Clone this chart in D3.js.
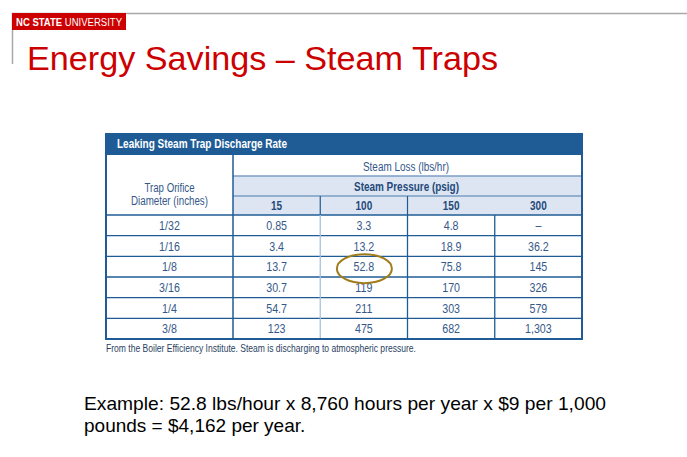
<!DOCTYPE html>
<html>
<head>
<meta charset="utf-8">
<script src="https://cdn.jsdelivr.net/npm/d3@7"></script>
<style>
html,body{margin:0;padding:0;background:#fff;}
svg{display:block;}
</style>
</head>
<body>
<svg id="chart" width="687" height="457"></svg>
<script>
// ---- data ----
const diameters = ["1/32", "1/16", "1/8", "3/16", "1/4", "3/8"];
const pressures = ["15", "100", "150", "300"];
const loss15  = [0.85, 3.4, 13.7, 30.7, 54.7, 123];
const loss100 = [3.3, 13.2, 52.8, 119, 211, 475];
const loss150 = [4.8, 18.9, 75.8, 170, 303, 682];
const loss300 = [null, 36.2, 145, 326, 579, 1303];
const highlight = {row: "1/8", col: "100"};

const seriesByPressure = {"15": loss15, "100": loss100, "150": loss150, "300": loss300};

const svg = d3.select("#chart");
const narrow = "'Liberation Sans Narrow','Arial Narrow','Liberation Sans',Arial,sans-serif";
const sans = "'Liberation Sans',Arial,Helvetica,sans-serif";
const dark = "#1f5c96", mid = "#7d9ec4", light = "#a9c1dc", fill = "#dce5f1", txt = "#34588a";

// squeeze text horizontally to mimic a condensed face
function condense(sel, factor) {
  sel.each(function () {
    const w = this.getComputedTextLength();
    d3.select(this).attr("textLength", w * factor).attr("lengthAdjust", "spacingAndGlyphs");
  });
}

// ---- slide frame ----
svg.append("rect").attr("width", 687).attr("height", 457).attr("fill", "#fff");
svg.append("line").attr("x1", 12).attr("x2", 687).attr("y1", 13.5).attr("y2", 13.5)
  .attr("stroke", "#a8a8a8").attr("stroke-width", 1.5);
svg.append("line").attr("x1", 12.5).attr("x2", 12.5).attr("y1", 13).attr("y2", 64)
  .attr("stroke", "#a8a8a8").attr("stroke-width", 1.5);
svg.append("rect").attr("x", 12).attr("y", 13).attr("width", 114).attr("height", 17).attr("fill", "#cc0000");
const logo = svg.append("text").attr("x", 16).attr("y", 26).attr("fill", "#fff")
  .attr("font-family", sans).attr("font-size", 10.5).attr("textLength", 106).attr("lengthAdjust", "spacingAndGlyphs");
logo.append("tspan").attr("font-weight", "bold").text("NC STATE ");
logo.append("tspan").text("UNIVERSITY");

svg.append("text").attr("x", 27).attr("y", 70).attr("fill", "#cc0000")
  .attr("font-family", sans).attr("font-size", 34).attr("textLength", 471).attr("lengthAdjust", "spacingAndGlyphs")
  .text("Energy Savings \u2013 Steam Traps");

// ---- table geometry via scales ----
const tableLeft = 106, tableRight = 582, firstColRight = 233;
const x = d3.scaleBand().domain(pressures).range([firstColRight, tableRight]);
const y = d3.scaleBand().domain(diameters).range([215, 339]);
const hdr = {top: 133, barBottom: 155, lossBottom: 176, pressBottom: 196, labelBottom: 215};

const g = svg.append("g");
// header bar
g.append("rect").attr("x", tableLeft).attr("y", hdr.top).attr("width", tableRight - tableLeft)
  .attr("height", hdr.barBottom - hdr.top).attr("fill", dark);
g.append("text").attr("x", 117).attr("y", 148).attr("fill", "#fff").attr("font-family", narrow)
  .attr("font-weight", "bold").attr("font-size", 13).attr("textLength", 170)
  .attr("lengthAdjust", "spacingAndGlyphs").text("Leaking Steam Trap Discharge Rate");
// light rows
g.append("rect").attr("x", firstColRight).attr("y", hdr.lossBottom).attr("width", tableRight - firstColRight)
  .attr("height", hdr.labelBottom - hdr.lossBottom).attr("fill", fill);

// header texts
g.append("text").attr("x", (tableLeft + firstColRight) / 2).attr("y", 191.5).attr("text-anchor", "middle")
  .attr("fill", txt).attr("font-family", narrow).attr("font-size", 12.5).attr("textLength", 50)
  .attr("lengthAdjust", "spacingAndGlyphs").text("Trap Orifice");
g.append("text").attr("x", (tableLeft + firstColRight) / 2).attr("y", 205).attr("text-anchor", "middle")
  .attr("fill", txt).attr("font-family", narrow).attr("font-size", 12.5).attr("textLength", 77)
  .attr("lengthAdjust", "spacingAndGlyphs").text("Diameter (inches)");
g.append("text").attr("x", 406).attr("y", 170.5).attr("text-anchor", "middle")
  .attr("fill", txt).attr("font-family", narrow).attr("font-size", 12.5).attr("textLength", 86)
  .attr("lengthAdjust", "spacingAndGlyphs").text("Steam Loss (lbs/hr)");
g.append("text").attr("x", 406.5).attr("y", 190.5).attr("text-anchor", "middle")
  .attr("fill", "#24497a").attr("font-family", narrow).attr("font-weight", "bold").attr("font-size", 12.5)
  .attr("textLength", 105).attr("lengthAdjust", "spacingAndGlyphs").text("Steam Pressure (psig)");
g.selectAll("text.plabel").data(pressures).join("text").attr("class", "plabel")
  .attr("x", d => x(d) + x.bandwidth() / 2).attr("y", 210).attr("text-anchor", "middle")
  .attr("fill", "#24497a").attr("font-family", narrow).attr("font-weight", "bold").attr("font-size", 12.5)
  .text(d => d).call(condense, 0.8);

// header lines
[hdr.lossBottom, hdr.pressBottom].forEach(yy => {
  g.append("line").attr("x1", firstColRight).attr("x2", tableRight).attr("y1", yy).attr("y2", yy)
    .attr("stroke", mid).attr("stroke-width", 1.5);
});
// vertical lines in label row
["100", "150"].forEach(p => {
  g.append("line").attr("x1", x(p)).attr("x2", x(p)).attr("y1", hdr.pressBottom).attr("y2", hdr.labelBottom)
    .attr("stroke", dark).attr("stroke-width", 1.2);
});

// body horizontal lines
const rowLines = [hdr.labelBottom].concat(diameters.slice(1).map(d => y(d)));
g.selectAll("line.hrow").data(rowLines).join("line").attr("class", "hrow")
  .attr("x1", tableLeft).attr("x2", tableRight).attr("y1", d => d).attr("y2", d => d)
  .attr("stroke", dark).attr("stroke-width", 1.3);
// body vertical lines
g.selectAll("line.vcol").data(pressures.slice(1)).join("line").attr("class", "vcol")
  .attr("x1", d => x(d)).attr("x2", d => x(d)).attr("y1", hdr.labelBottom).attr("y2", 339)
  .attr("stroke", d => d === "100" ? light : dark).attr("stroke-width", 1.3);
// first column separator
g.append("line").attr("x1", firstColRight).attr("x2", firstColRight).attr("y1", hdr.barBottom).attr("y2", 339)
  .attr("stroke", dark).attr("stroke-width", 1.5);
// outer border
g.append("path").attr("d", `M${tableLeft},${hdr.top}V339H${tableRight}V${hdr.top}`)
  .attr("fill", "none").attr("stroke", dark).attr("stroke-width", 2);

// row labels
g.selectAll("text.rlabel").data(diameters).join("text").attr("class", "rlabel")
  .attr("x", (tableLeft + firstColRight) / 2).attr("y", d => y(d) + y.bandwidth() / 2 + 4.6)
  .attr("text-anchor", "middle").attr("fill", txt).attr("font-family", narrow).attr("font-size", 13)
  .text(d => d).call(condense, 0.82);

// cells
const fmt = d3.format(",");
const cells = [];
pressures.forEach(p => diameters.forEach((d, i) => cells.push({p, d, v: seriesByPressure[p][i]})));
g.selectAll("text.cell").data(cells).join("text").attr("class", "cell")
  .attr("x", c => x(c.p) + x.bandwidth() / 2).attr("y", c => y(c.d) + y.bandwidth() / 2 + 4.6)
  .attr("text-anchor", "middle").attr("fill", txt).attr("font-family", narrow).attr("font-size", 13)
  .text(c => c.v == null ? "\u2013" : fmt(c.v)).call(condense, 0.82);

// highlight ellipse
g.append("ellipse")
  .attr("cx", x(highlight.col) + x.bandwidth() / 2 + 0.5)
  .attr("cy", y(highlight.row) + y.bandwidth() / 2 + 2)
  .attr("rx", 27.5).attr("ry", 14.5)
  .attr("fill", "none").attr("stroke", "#a07c1a").attr("stroke-width", 2);

// footnote
svg.append("text").attr("x", 106).attr("y", 352).attr("fill", "#2a3f5f").attr("font-family", narrow)
  .attr("font-size", 10.5).attr("textLength", 310).attr("lengthAdjust", "spacingAndGlyphs")
  .text("From the Boiler Efficiency Institute. Steam is discharging to atmospheric pressure.");

// example text
const ex = svg.append("text").attr("font-family", sans).attr("font-size", 19).attr("fill", "#000");
ex.append("tspan").attr("x", 84).attr("y", 410).attr("textLength", 522).attr("lengthAdjust", "spacingAndGlyphs")
  .text("Example: 52.8 lbs/hour x 8,760 hours per year x $9 per 1,000");
ex.append("tspan").attr("x", 84).attr("y", 432).text("pounds = $4,162 per year.");
</script>
</body>
</html>
